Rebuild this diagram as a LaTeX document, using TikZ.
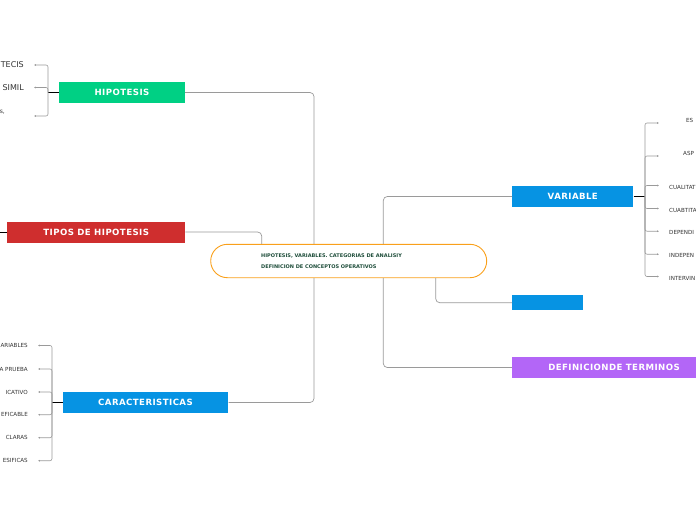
\documentclass[tikz,border=0pt]{standalone}
\usepackage{fontspec}
\setmainfont{DejaVu Sans}
\usepackage{xcolor}
\usetikzlibrary{positioning, arrows.meta}

\definecolor{hipgreen}{HTML}{00D084}
\definecolor{tipred}{HTML}{CF2E2E}
\definecolor{carblue}{HTML}{0693E3}
\definecolor{defpurple}{HTML}{B366F7}
\definecolor{centorange}{HTML}{F9A01B}
\definecolor{centgreen}{HTML}{1E4D3A}
\definecolor{linkgray}{HTML}{9A9A9A}
\definecolor{leafgray}{HTML}{333333}

\begin{document}
\begin{tikzpicture}[x=1pt, y=-1pt,
  topic/.style={rectangle, text=white, font=\bfseries\fontsize{8.6}{10}\selectfont\addfontfeature{LetterSpace=5}, minimum height=21pt, inner sep=0pt},
  link/.style={draw=linkgray, line width=0.7pt, rounded corners=4pt},
  stub/.style={draw=black, line width=1pt},
  sub/.style={draw=linkgray, line width=0.6pt, rounded corners=2pt, -{Latex[length=1.8pt,width=1.8pt]}},
  leaf/.style={font=\fontsize{5.6}{7}\selectfont, text=leafgray, inner sep=0pt}
]
\useasboundingbox (0,0) rectangle (696,520);
\clip (0,0) rectangle (696,520);

% Centro
\node[draw=centorange, line width=0.9pt, rounded corners=16.7pt, minimum width=276pt, minimum height=33.4pt, inner sep=0pt] (centro) at (348.7,261) {};
\node[anchor=west, align=left, text=centgreen, font=\bfseries\fontsize{5}{11.3}\selectfont, inner sep=0pt] (centrotxt) at (261,261.4) {HIPOTESIS, VARIABLES. CATEGORIAS DE ANALISIY\\DEFINICION DE CONCEPTOS OPERATIVOS};

% Ramas izquierda
\node[topic, fill=hipgreen, minimum width=126pt] (hipotesis) at (122,92.5) {HIPOTESIS};
\node[topic, fill=tipred, minimum width=177.7pt] (tipos) at (96.2,232) {TIPOS DE HIPOTESIS};
\node[topic, fill=carblue, minimum width=165.6pt] (caract) at (145.5,402.5) {CARACTERISTICAS};

% Ramas derecha
\node[topic, fill=carblue, minimum width=121pt] (variable) at (572.8,196.5) {VARIABLE};
\node[topic, fill=carblue, minimum width=70.4pt, minimum height=14.7pt] (blanco) at (547.5,302.7) {};
\node[topic, fill=defpurple, minimum width=204pt] (definicion) at (614,367.5) {DEFINICIONDE TERMINOS};

% Conectores al centro
\draw[link] (hipotesis.east) -| ([xshift=-34.7pt]centro.north);
\draw[link] (tipos.east) -| ([xshift=-87pt]centro.north);
\draw[link] (caract.east) -| ([xshift=-34.7pt]centro.south);
\draw[link] ([xshift=34.6pt]centro.north) |- (variable.west);
\draw[link] ([xshift=87pt]centro.south) |- (blanco.west);
\draw[link] ([xshift=34.6pt]centro.south) |- (definicion.west);

% Hijos de hipotesis
\coordinate (hipjoin) at (48,92.5);
\node[leaf, font=\fontsize{8}{9}\selectfont, anchor=east] (h1) at (24,65) {TECIS};
\node[leaf, font=\fontsize{8}{9}\selectfont, anchor=east] (h2) at (24,88) {SIMIL};
\node[leaf, font=\fontsize{6}{7}\selectfont, anchor=east] (h3) at (5,112) {s,};
\draw[stub] (hipotesis.west) -- (hipjoin);
\draw[sub] (hipjoin) |- ([xshift=10pt]h1.east);
\draw[sub] (hipjoin) |- ([xshift=10pt,yshift=0.5pt]h2.east);
\draw[sub] (hipjoin) |- ([xshift=29pt,yshift=-4pt]h3.east);

% Hijos de tipos
\coordinate (tipjoin) at (-4,232);
\draw[stub] (tipos.west) -- (tipjoin);

% Hijos de caracteristicas
\coordinate (carjoin) at (52,402.5);
\draw[stub] (caract.west) -- (carjoin);
\foreach \y/\txt [count=\i] in {345.5/ARIABLES, 369/A PRUEBA, 392/ICATIVO, 414.7/EFICABLE, 437.7/CLARAS, 460.7/ESIFICAS}{
  \node[leaf, anchor=east] (c\i) at (28,\y) {\txt};
  \draw[sub] (carjoin) |- ([xshift=10pt]c\i.east);
}

% Hijos de variable
\coordinate (varjoin) at (645,196.5);
\draw[stub] (variable.east) -- (varjoin);
\node[leaf, anchor=west] (v1) at (686,120) {ES};
\node[leaf, anchor=west] (v2) at (683,153) {ASP};
\draw[sub] (varjoin) |- ([xshift=-27pt,yshift=-3pt]v1.west);
\draw[sub] (varjoin) |- ([xshift=-24pt,yshift=-3pt]v2.west);
\foreach \y/\txt [count=\i from 3] in {187/CUALITAT, 210/CUABTITA, 232.7/DEPENDI, 255.7/INDEPEN, 278/INTERVIN}{
  \node[leaf, anchor=west] (v\i) at (669,\y) {\txt};
  \draw[sub] (varjoin) |- ([xshift=-10pt,yshift=1.5pt]v\i.west);
}

\end{tikzpicture}
\end{document}
